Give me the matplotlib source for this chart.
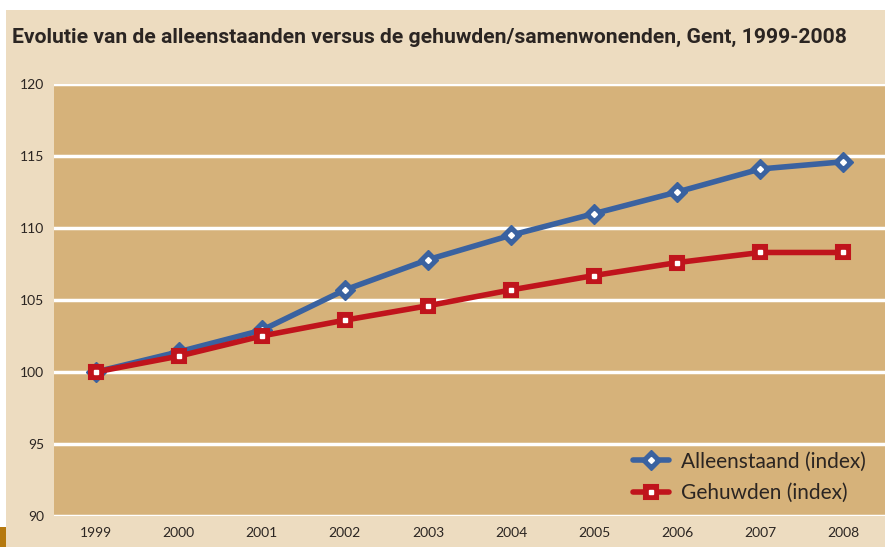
import matplotlib
matplotlib.use('Agg')
import matplotlib.pyplot as plt
from matplotlib.patches import Rectangle
from matplotlib.legend_handler import HandlerTuple

# Data (index, 1999 = 100)
years = ['1999', '2000', '2001', '2002', '2003', '2004', '2005', '2006', '2007', '2008']
alleenstaand = [100.0, 101.4, 102.9, 105.7, 107.8, 109.5, 111.0, 112.5, 114.1, 114.6]
gehuwden = [100.0, 101.1, 102.5, 103.6, 104.6, 105.7, 106.7, 107.6, 108.3, 108.3]
yticks = [90, 95, 100, 105, 110, 115, 120]

plt.rcParams['font.family'] = ['Lato', 'DejaVu Sans']

W, H = 885, 547
fig = plt.figure(figsize=(W / 100, H / 100), dpi=100, facecolor='white')

# beige panel and small brown block
fig.patches.append(Rectangle((6 / W, 0), 1 - 6 / W, (H - 10) / H, transform=fig.transFigure,
                             facecolor='#EDDCC0', edgecolor='none', zorder=-10))
fig.patches.append(Rectangle((0, 0), 6 / W, 20 / H, transform=fig.transFigure,
                             facecolor='#B5790F', edgecolor='none', zorder=-10))

fig.text(12 / W, 1 - 37 / H, 'Evolutie van de alleenstaanden versus de gehuwden/samenwonenden, Gent, 1999-2008',
         fontsize=15.2, fontweight='bold', color='#2B2522', va='center', ha='left',
         family=['Roboto', 'DejaVu Sans'])

ax = fig.add_axes([54 / W, (H - 516) / H, 1 - 54 / W, (516 - 84) / H])
ax.set_facecolor('#D6B27A')
x = list(range(len(years)))

blue = '#3A62A0'
red = '#C0141C'
l1, = ax.plot(x, alleenstaand, color=blue, lw=4, marker='D', ms=10, mfc=blue, mec=blue,
              solid_capstyle='round', zorder=3)
d1, = ax.plot(x, alleenstaand, ls='none', marker='D', ms=3, mfc='white', mec='white', zorder=4)
l2, = ax.plot(x, gehuwden, color=red, lw=4, marker='s', ms=10, mfc=red, mec=red, mew=1.5,
              solid_capstyle='round', zorder=5)
d2, = ax.plot(x, gehuwden, ls='none', marker='s', ms=3.5, mfc='white', mec='white', zorder=6)

ax.set_xlim(-0.5, 9.5)
ax.set_ylim(90, 120)
ax.set_yticks(yticks)
ax.set_xticks(x)
ax.set_xticklabels(years)
ax.grid(axis='y', color='white', lw=2.5)
ax.set_axisbelow(True)
for s in ax.spines.values():
    s.set_visible(False)
ax.tick_params(length=0, labelsize=10, colors='#2B2522')
ax.tick_params(axis='y', pad=7)
ax.tick_params(axis='x', pad=8)

leg = ax.legend([(l1, d1), (l2, d2)], ['Alleenstaand (index)', 'Gehuwden (index)'],
                handler_map={tuple: HandlerTuple(ndivide=1, pad=0)},
                loc='lower right', bbox_to_anchor=(1.0, -0.013), frameon=False,
                handlelength=1.7, labelspacing=0.55, handletextpad=0.6,
                prop={'size': 15})
for t in leg.get_texts():
    t.set_color('#2B2522')

fig.savefig('out.png', dpi=100, facecolor='white')
